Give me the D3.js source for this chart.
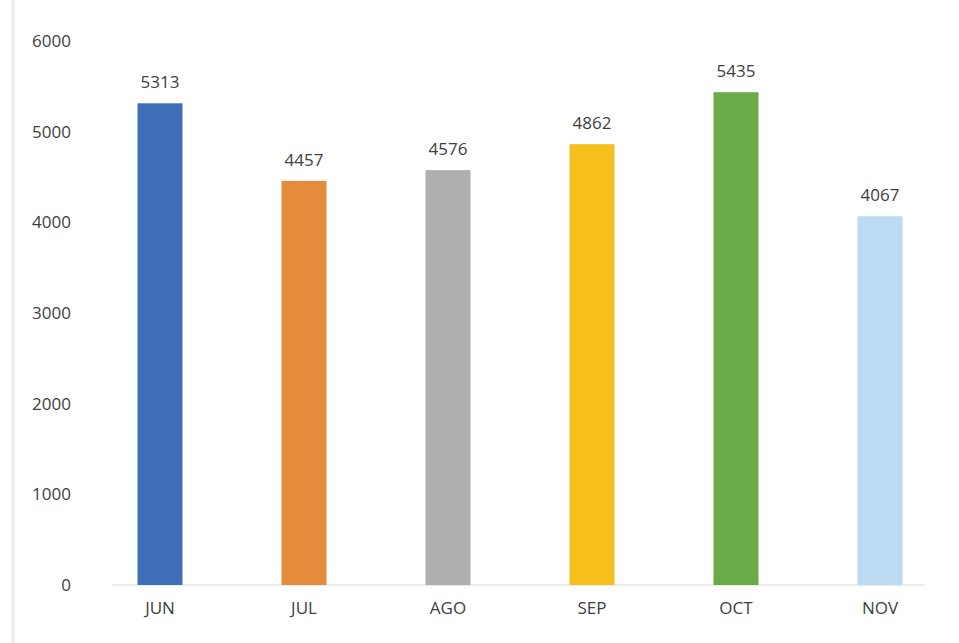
<!DOCTYPE html>
<html lang="en">
<head>
    <meta charset="UTF-8">
    <title>Meses</title>
    <script src="https://d3js.org/d3.v7.min.js"></script>
    <style>
        body { margin: 0; background: #fff; }
        text { font-family: "Open Sans", "Noto Sans", sans-serif; fill: #404040; }
    </style>
</head>
<body>
<svg id="chart"></svg>
<script>
    // Data
    const months = ["JUN", "JUL", "AGO", "SEP", "OCT", "NOV"];
    const values = [5313, 4457, 4576, 4862, 5435, 4067];
    const colors = ["#3e6eb6", "#e58c3c", "#afafaf", "#f6c01c", "#6aab48", "#bcdaf2"];
    const yTicks = [0, 1000, 2000, 3000, 4000, 5000, 6000];

    const W = 959, H = 643;
    const fs = "17px";
    const svg = d3.select("#chart").attr("width", W).attr("height", H);

    // faint scan border on the left
    svg.append("line")
        .attr("x1", 13).attr("x2", 13).attr("y1", 0).attr("y2", H)
        .attr("stroke", "#ececec").attr("stroke-width", 3);

    const x = d3.scaleBand()
        .domain(months)
        .range([88, 952])
        .paddingInner(0.6875)
        .paddingOuter(0.34375);

    const y = d3.scaleLinear()
        .domain([0, 6000])
        .range([585, 41]);

    // baseline
    svg.append("line")
        .attr("x1", 112).attr("x2", 925)
        .attr("y1", y(0)).attr("y2", y(0))
        .attr("stroke", "#d9d9d9").attr("stroke-width", 1);

    // y axis labels
    const yAxis = svg.append("g")
        .attr("transform", "translate(71,0)")
        .call(d3.axisLeft(y).tickValues(yTicks).tickSize(0).tickPadding(0).tickFormat(d3.format("d")));
    yAxis.select(".domain").remove();
    yAxis.selectAll("text").style("font-size", fs).attr("fill", "#404040")
        .style("font-family", "'Open Sans', sans-serif");

    // bars
    svg.selectAll("rect.bar")
        .data(months)
        .join("rect")
        .attr("class", "bar")
        .attr("x", d => x(d))
        .attr("width", x.bandwidth())
        .attr("y", (d, i) => y(values[i]))
        .attr("height", (d, i) => y(0) - y(values[i]))
        .attr("fill", (d, i) => colors[i]);

    // value labels
    svg.selectAll("text.val")
        .data(months)
        .join("text")
        .attr("class", "val")
        .attr("x", d => x(d) + x.bandwidth() / 2)
        .attr("y", (d, i) => y(values[i]) - 15)
        .attr("text-anchor", "middle")
        .style("font-size", fs)
        .text((d, i) => values[i]);

    // x axis labels
    const xAxis = svg.append("g")
        .attr("transform", "translate(0," + (y(0) + 17) + ")")
        .call(d3.axisBottom(x).tickSize(0).tickPadding(0));
    xAxis.select(".domain").remove();
    xAxis.selectAll("text").style("font-size", fs).attr("fill", "#404040")
        .style("font-family", "'Open Sans', sans-serif");
</script>
</body>
</html>
